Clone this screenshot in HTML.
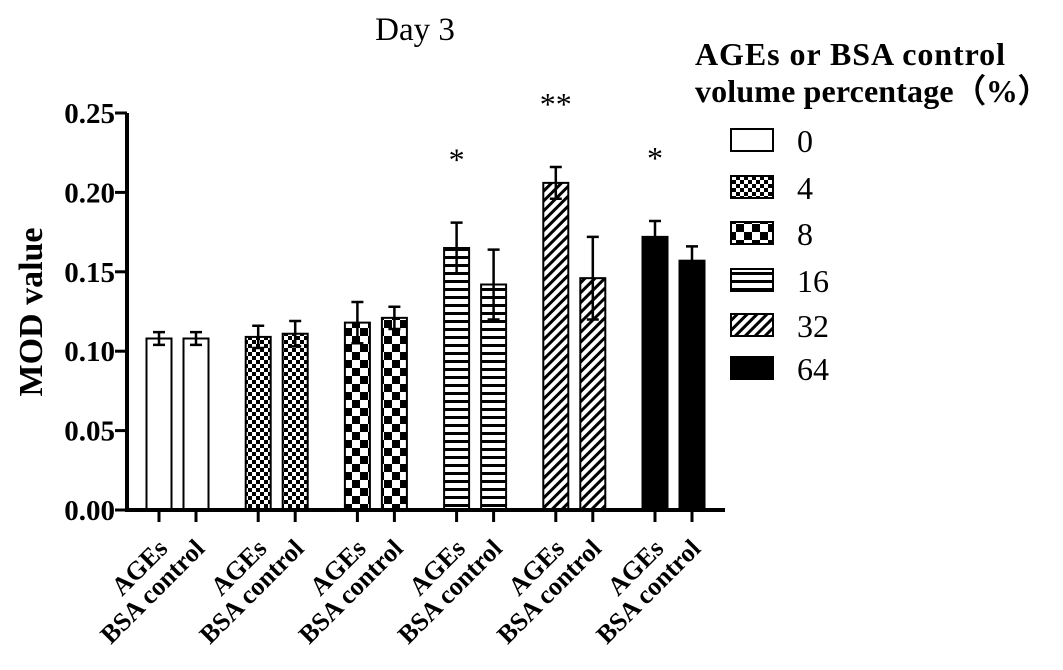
<!DOCTYPE html>
<html><head><meta charset="utf-8"><style>
body{margin:0;background:#fff;}
svg text{font-family:"Liberation Serif",serif;}
</style></head><body>
<svg width="1063" height="665" viewBox="0 0 1063 665" xmlns="http://www.w3.org/2000/svg">
<defs>
<pattern id="p4" patternUnits="userSpaceOnUse" width="8" height="8"><rect width="8" height="8" fill="#fff"/><rect width="4" height="4" fill="#000"/><rect x="4" y="4" width="4" height="4" fill="#000"/></pattern>
<pattern id="p8" patternUnits="userSpaceOnUse" width="16" height="16"><rect width="16" height="16" fill="#fff"/><rect width="8" height="8" fill="#000"/><rect x="8" y="8" width="8" height="8" fill="#000"/></pattern>
<pattern id="p16" patternUnits="userSpaceOnUse" width="8" height="8"><rect width="8" height="8" fill="#fff"/><rect y="0" width="8" height="3" fill="#000"/></pattern>
<pattern id="p32" patternUnits="userSpaceOnUse" width="7" height="7" patternTransform="rotate(45)"><rect width="7" height="7" fill="#fff"/><rect width="3" height="7" fill="#000"/></pattern>
</defs>
<text x="415" y="40" font-size="33" text-anchor="middle">Day 3</text>
<text transform="translate(42,312) rotate(-90)" font-size="34" font-weight="bold" text-anchor="middle">MOD value</text>
<g id="plot"></g>
<g>
<text x="695" y="65" font-size="32" font-weight="bold" textLength="310">AGEs or BSA control</text>
<text x="695" y="102" font-size="32" font-weight="bold" textLength="355">volume percentage（%）</text>
<g id="leg"></g>
</g>
</svg>
<script>
const groups=["0","4","8","16","32","64"];
const agesVals=[0.108,0.109,0.118,0.165,0.206,0.172];
const agesErr=[0.004,0.007,0.013,0.016,0.010,0.010];
const bsaVals=[0.108,0.111,0.121,0.142,0.146,0.157];
const bsaErr=[0.004,0.008,0.007,0.022,0.026,0.009];
const stars=["","","","*","**","*"];
const yTicks=[0,0.05,0.10,0.15,0.20,0.25];
const NS="http://www.w3.org/2000/svg";
const fills=["#fff","url(#p4)","url(#p8)","url(#p16)","url(#p32)","#000"];
const y0=510,ppu=1588;
function Y(v){return y0-v*ppu;}
function X(g,s){return 159+g*99.2+s*37;}
const plot=document.getElementById('plot');
function mk(tag,attrs,parent){const e=document.createElementNS(NS,tag);for(const k in attrs)e.setAttribute(k,attrs[k]);(parent||plot).appendChild(e);return e;}
groups.forEach((g,i)=>{
 [[agesVals,agesErr,"ages"],[bsaVals,bsaErr,"bsa"]].forEach(([vals,errs,nm],s)=>{
  const cx=X(i,s),v=vals[i],e=errs[i];
  const r=mk('rect',{x:cx-12.5,y:Y(v),width:25,height:y0-Y(v),fill:fills[i],stroke:"#000","stroke-width":2});
  
  
  const eb=mk('path',{d:`M${cx},${Y(v-e)}V${Y(v+e)}M${cx-6},${Y(v+e)}H${cx+6}M${cx-6},${Y(v-e)}H${cx+6}`,stroke:"#000","stroke-width":2.5,fill:"none"});
  
  
  const t=mk('line',{x1:cx,x2:cx,y1:y0,y2:y0+12,stroke:"#000","stroke-width":3});
  
  
  const lb=mk('text',{transform:`translate(${cx+10},${y0+40}) rotate(-45)`,"font-size":26,"font-weight":"bold","text-anchor":"end"});
  lb.textContent=s==0?"AGEs":"BSA control";
  
  
 });
 if(stars[i]){
  const st=mk('text',{x:X(i,0),y:Y(agesVals[i]+agesErr[i])-52,"font-size":32,"font-family":"Liberation Sans","text-anchor":"middle"});
  st.textContent=stars[i];
  
  
 }
});
const ax=mk('path',{d:`M127,${Y(0.25)}V${y0}H725`,stroke:"#000","stroke-width":4,fill:"none"});


yTicks.forEach(t=>{
 const l=mk('line',{x1:115,x2:127,y1:Y(t),y2:Y(t),stroke:"#000","stroke-width":3});
 
 
 const tx=mk('text',{x:115,y:Y(t)+10,"font-size":29,"font-weight":"bold","text-anchor":"end"});
 tx.textContent=t.toFixed(2);
 
 
});
const leg=document.getElementById('leg');
const ly=[140,187,233,280,325,368];
groups.forEach((g,i)=>{
 const r=mk('rect',{x:731,y:ly[i]-11,width:42,height:22,fill:fills[i],stroke:"#000","stroke-width":2},leg);
 
 
 const t=mk('text',{x:797,y:ly[i]+12,"font-size":32},leg);
 t.textContent=g;
 
 
});
</script>
</body></html>
